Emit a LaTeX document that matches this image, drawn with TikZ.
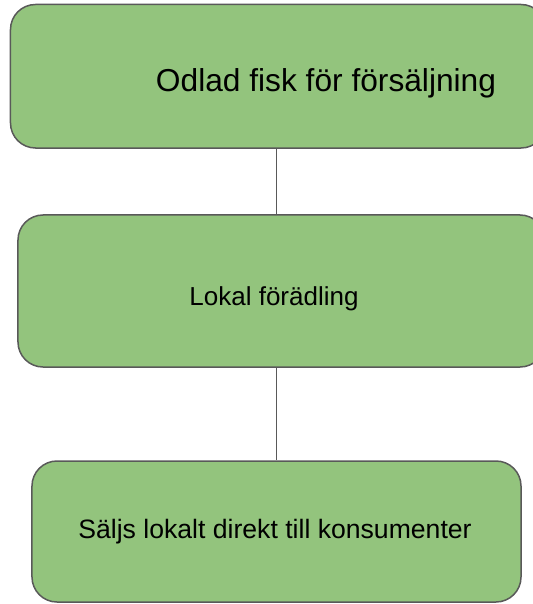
\documentclass[tikz,border=0pt]{standalone}
\usepackage{fontspec}
\setmainfont{Liberation Sans}
\definecolor{boxgreen}{HTML}{93C47D}
\definecolor{boxline}{HTML}{595959}

\begin{document}
\begin{tikzpicture}[x=1bp,y=-1bp,
    stage/.style={draw=boxline,fill=boxgreen,line width=1.5bp,
      rounded corners=25bp,inner sep=0pt},
    stagetext/.style={anchor=base,inner sep=0pt}
  ]
    \clip (0,0) rectangle (533,604);

    \node[stage,minimum width=535.5bp,minimum height=143.5bp] (fisk)    at (278.25,76.25) {};
    \node[stage,minimum width=527bp,minimum height=152bp]     (lokal)   at (281.5,291) {};
    \node[stage,minimum width=489bp,minimum height=141bp]     (direkt)  at (276.5,531.5) {};

    \node[stagetext,font=\fontsize{31.7bp}{38bp}\selectfont] (fisk-t)   at (326,92)  {Odlad fisk för försäljning};
    \node[stagetext,font=\fontsize{26bp}{31bp}\selectfont]   (lokal-t)  at (274,305) {Lokal förädling};
    \node[stagetext,font=\fontsize{26.6bp}{32bp}\selectfont] (direkt-t) at (275,538) {Säljs lokalt direkt till konsumenter};

    \path[draw=boxline,line width=1.5bp]
          (fisk.south -| direkt.north)  edge (lokal.north -| direkt.north)
          (lokal.south -| direkt.north) edge (direkt.north);
  \end{tikzpicture}
\end{document}
